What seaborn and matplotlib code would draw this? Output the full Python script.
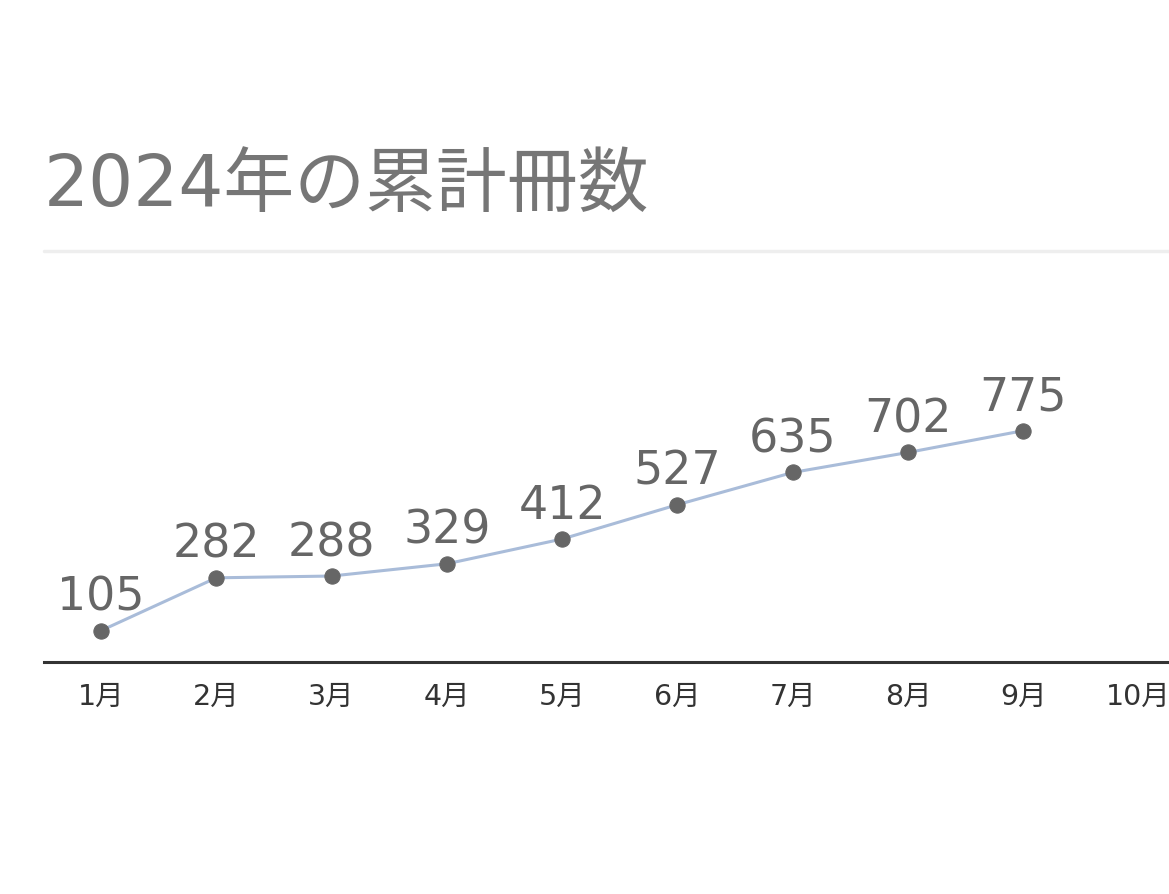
import matplotlib
matplotlib.use("Agg")
import matplotlib.pyplot as plt
import seaborn as sns
import pandas as pd

# data
months = ["1月", "2月", "3月", "4月", "5月", "6月", "7月", "8月", "9月", "10月"]
totals = [105, 282, 288, 329, 412, 527, 635, 702, 775]

df = pd.DataFrame({"idx": range(len(totals)), "total": totals})

sns.set_theme(style="white")
plt.rcParams["font.family"] = ["DejaVu Sans", "Noto Sans CJK JP"]

fig = plt.figure(figsize=(11.69, 8.95), dpi=100)
W, H = 1169, 895
# axes: left 44px, right 1169px, bottom at 663px, top at 300px
ax = fig.add_axes([44 / W, (H - 663) / H, (1169 - 44) / W, (663 - 300) / H])

sns.lineplot(data=df, x="idx", y="total", ax=ax, color="#a9bcd9", linewidth=2.2,
             marker="o", markersize=11, markerfacecolor="#666666",
             markeredgecolor="#666666", zorder=3)

for i, v in enumerate(totals):
    ax.annotate(str(v), (i, v), xytext=(0, 15), textcoords="offset points",
                ha="center", va="baseline", fontsize=33, color="#666666")

ax.set_xlim(-0.494, 9.263)
ax.set_ylim(0, (663 - 300) / 0.2985)
ax.set_xticks(range(len(months)))
ax.set_xticklabels(months, fontsize=20.5, color="#333333")
ax.tick_params(axis="x", length=0, pad=14)
ax.set_yticks([])
ax.set_xlabel("")
ax.set_ylabel("")
for s in ["top", "right", "left"]:
    ax.spines[s].set_visible(False)
ax.spines["bottom"].set_color("#333333")
ax.spines["bottom"].set_linewidth(2.2)

# title and separator
fig.text(44 / W, 1 - 207 / H, "2024年の累計冊数", fontsize=51, color="#767676",
         va="baseline", ha="left")
fig.add_artist(plt.Line2D([44 / W, 1.0], [1 - 252 / H] * 2, color="#eeeeee",
                          linewidth=2.5, transform=fig.transFigure))

fig.savefig("out.png", dpi=100)
